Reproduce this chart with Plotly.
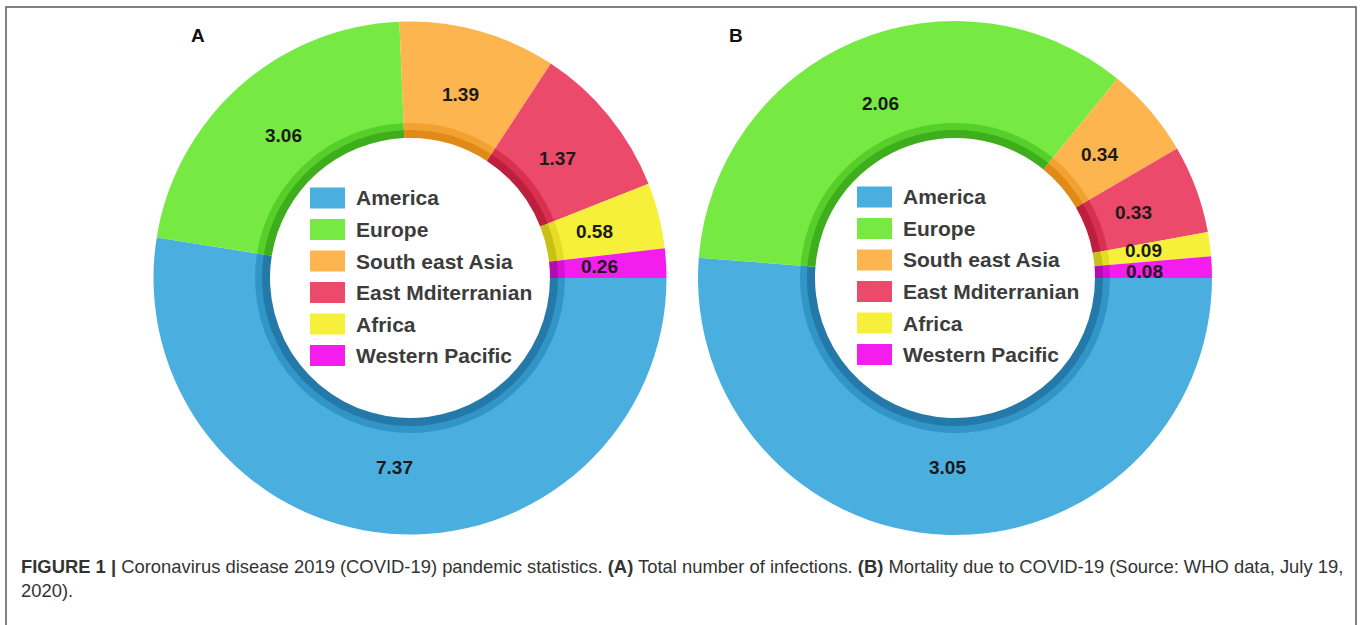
import numpy as np
import plotly.graph_objects as go

# WHO regional figures (July 19, 2020)
regions = ["America", "Europe", "South east Asia", "East Mditerranian", "Africa", "Western Pacific"]
infections = [7.37, 3.06, 1.39, 1.37, 0.58, 0.26]
mortality = [3.05, 2.06, 0.34, 0.33, 0.09, 0.08]
panel_names = ["A", "B"]

caption = ("<b>FIGURE 1 |</b> Coronavirus disease 2019 (COVID-19) pandemic statistics. "
           "<b>(A)</b> Total number of infections. <b>(B)</b> Mortality due to COVID-19 "
           "(Source: WHO data, July 19,<br>2020).")

# slice colours and the darker shades used for the bevelled inner rim
colors = ["#4AAFDE", "#76EA43", "#FDB54F", "#EB4A6A", "#F6F03A", "#F31EEE"]
rim_mid = ["#3195C8", "#56CF2A", "#F3A232", "#D9304F", "#E4DC25", "#D812D2"]
rim_dark = ["#2479A8", "#3EAE1C", "#E08A18", "#BE1F3C", "#C9C016", "#B50CB0"]

W, H = 1362, 625
FONT = "Liberation Sans, Arial, sans-serif"
LABEL_R = 190     # radius (px) at which the value labels sit
LABEL_GAP = 21    # minimum vertical spacing between neighbouring value labels


def domain(cx, cy, r):
    return dict(x=[(cx - r) / W, (cx + r) / W], y=[1 - (cy + r) / H, 1 - (cy - r) / H])


panels = [
    dict(values=infections, cx=410, cy=278, R=256.5, name=panel_names[0], lx=310, ly=198, tag=(198, 35)),
    dict(values=mortality, cx=955, cy=278, R=257, name=panel_names[1], lx=857, ly=197, tag=(736, 35)),
]

fig = go.Figure()
shapes = []
annotations = []

for p in panels:
    cx, cy, R = p["cx"], p["cy"], p["R"]
    vals = np.array(p["values"])
    # main ring: starts at 3 o'clock, runs clockwise
    fig.add_trace(go.Pie(
        labels=regions, values=vals, sort=False, direction="clockwise", rotation=90,
        hole=154 / R, domain=domain(cx, cy, R),
        marker=dict(colors=colors, line=dict(width=0)),
        textinfo="none", showlegend=False, hoverinfo="label+value",
    ))
    # bevel on the inner edge: two thin rings, lighter outside, darker inside
    for r_out, r_in, cols in [(155, 147, rim_mid), (148, 140, rim_dark)]:
        fig.add_trace(go.Pie(
            labels=regions, values=vals, sort=False, direction="clockwise", rotation=90,
            hole=r_in / r_out, domain=domain(cx, cy, r_out),
            marker=dict(colors=cols, line=dict(width=0)),
            textinfo="none", showlegend=False, hoverinfo="skip",
        ))

    # value labels at each slice's mid-angle (clockwise from 3 o'clock)
    ends = np.cumsum(vals) / vals.sum() * 2 * np.pi
    mids = ends - vals / vals.sum() * np.pi
    xs = cx + LABEL_R * np.cos(mids)
    ys = cy + LABEL_R * np.sin(mids)
    # spread apart the labels of the two thinnest neighbouring slices if they collide
    for i in range(len(vals) - 1):
        if abs(xs[i] - xs[i + 1]) < 40 and abs(ys[i] - ys[i + 1]) < LABEL_GAP:
            shift = (LABEL_GAP - abs(ys[i] - ys[i + 1])) / 2
            ys[i] -= shift
            ys[i + 1] += shift
    for v, x, y in zip(vals, xs, ys):
        annotations.append(dict(text=f"{v:.2f}", xref="paper", yref="paper",
                                x=x / W, y=1 - y / H, xanchor="center", yanchor="middle",
                                showarrow=False,
                                font=dict(family=FONT, size=19, color="#1A1A1A", weight="bold")))

    # legend inside the hole
    for i, (reg, col) in enumerate(zip(regions, colors)):
        yc = p["ly"] + i * 31.5
        shapes.append(dict(type="rect", xref="paper", yref="paper",
                           x0=p["lx"] / W, x1=(p["lx"] + 35) / W,
                           y0=1 - (yc + 10.5) / H, y1=1 - (yc - 10.5) / H,
                           fillcolor=col, line=dict(width=0), layer="above"))
        annotations.append(dict(text=reg, xref="paper", yref="paper",
                                x=(p["lx"] + 44) / W, y=1 - yc / H,
                                xanchor="left", yanchor="middle", showarrow=False,
                                font=dict(family=FONT, size=21, color="#3C3C3C", weight="bold")))

    # panel letter
    tx, ty = p["tag"]
    annotations.append(dict(text=f"<b>{p['name']}</b>", xref="paper", yref="paper",
                            x=tx / W, y=1 - ty / H, xanchor="center", yanchor="middle",
                            showarrow=False, font=dict(family=FONT, size=19, color="#111111")))

# figure frame
shapes.append(dict(type="rect", xref="paper", yref="paper",
                   x0=6 / W, x1=1356 / W, y0=-0.05, y1=1 - 7 / H,
                   line=dict(color="#5A5A5A", width=1.5), fillcolor="rgba(0,0,0,0)"))

annotations.append(dict(text=caption, xref="paper", yref="paper",
                        x=19 / W, y=1 - 554 / H, xanchor="left", yanchor="top", align="left",
                        showarrow=False,
                        font=dict(family=FONT, size=18.4, color="#333333")))

fig.update_layout(
    width=W, height=H, margin=dict(l=0, r=0, t=0, b=0),
    paper_bgcolor="white", plot_bgcolor="white",
    shapes=shapes, annotations=annotations,
    showlegend=False,
)

fig.write_html("out.html")
